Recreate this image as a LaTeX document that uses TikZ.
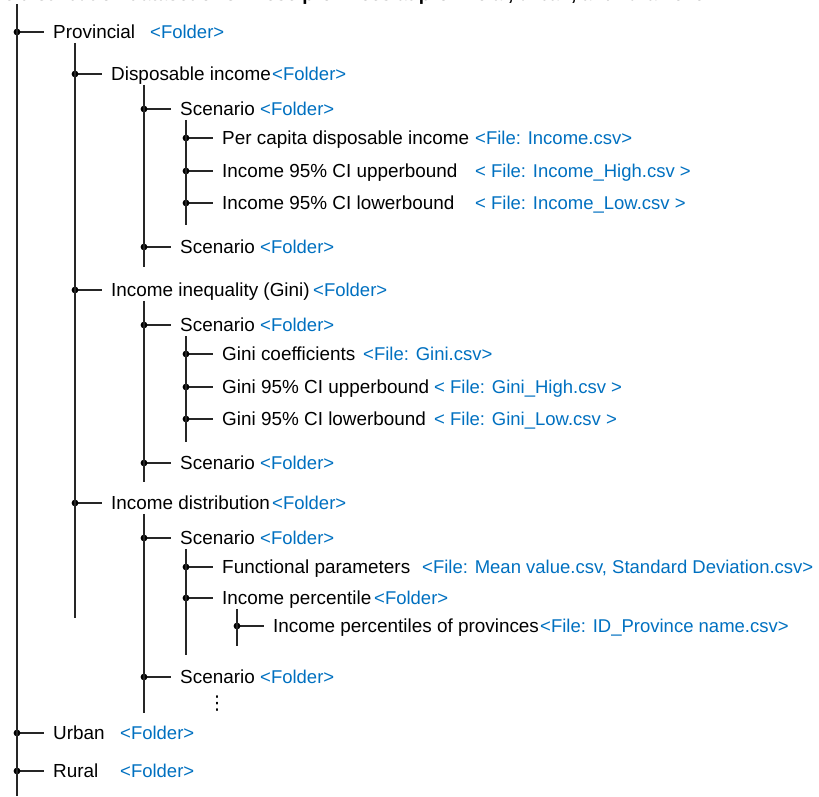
\documentclass[tikz,border=0pt]{standalone}
\usepackage{fontspec}
\setmainfont{Liberation Sans}
\newfontfamily\symfont{DejaVu Sans}
\usetikzlibrary{positioning}
\definecolor{folderblue}{RGB}{0,112,192}
\begin{document}
\begin{tikzpicture}[x=1pt, y=-1pt,
   every node/.style={font=\fontsize{18.9pt}{22pt}\selectfont},
   item/.style={anchor=west, inner xsep=9pt, inner ysep=0pt, text height=13.5pt, text depth=0pt},
   file/.style={anchor=west, inner sep=0pt, text height=13.5pt, text depth=0pt, text=folderblue,
      font=\fontsize{18.5pt}{22pt}\selectfont},
   trunk/.style={line width=1.7pt, black!85},
   twig/.style={line width=1.3pt, black!85},
   knot/.style={fill=black}]

\useasboundingbox (0,0) rectangle (819,796);

% cut-off caption line at the top
\node[anchor=base east, inner sep=0pt, font=\fontsize{18.9pt}{22pt}\selectfont\bfseries] (title)
   at (710,0.3) {Income distribution dataset of Chinese provinces at provincial, urban, and rural level};

% items of the tree
\foreach \n/\x/\y/\t in {prov/17/32/Provincial, urban/17/733/Urban, rural/17/771/Rural,
      disp/75/74/Disposable income, ineq/75/290/Income inequality (Gini), dist/75/503/Income distribution,
      sA1/144/109/Scenario, sA2/144/247/Scenario, sB1/144/325/Scenario,
      sB2/144/463/Scenario, sC1/144/538/Scenario, sC2/144/677/Scenario,
      pc/186/138/Per capita disposable income, iu/186/171/Income 95\% CI upperbound,
      il/186/203/Income 95\% CI lowerbound, gc/186/354/Gini coefficients,
      gu/186/387/Gini 95\% CI upperbound, gl/186/419/Gini 95\% CI lowerbound,
      fp/186/567/Functional parameters, ip/186/598/Income percentile,
      ipp/237/626/Income percentiles of provinces} {
   \coordinate (k-\n) at (\x,\y);
   \node[item, right=27pt of k-\n] (\n) {\t};
   \draw[twig] (k-\n) -- (\n);
   \fill[knot] (k-\n) circle[radius=3.4pt];
}

% folder and file tags
\foreach \n/\x/\t in {prov/150/{<Folder>}, urban/120/{<Folder>}, rural/120/{<Folder>},
      disp/272/{<Folder>}, ineq/313/{<Folder>}, dist/272/{<Folder>},
      sA1/260/{<Folder>}, sA2/260/{<Folder>}, sB1/260/{<Folder>},
      sB2/260/{<Folder>}, sC1/260/{<Folder>}, sC2/260/{<Folder>},
      pc/475/{<File: Income.csv>}, iu/475/{< File: Income\_High.csv >},
      il/475/{< File: Income\_Low.csv >}, gc/363/{<File: Gini.csv>},
      gu/434/{< File: Gini\_High.csv >}, gl/434/{< File: Gini\_Low.csv >},
      fp/422/{<File: Mean value.csv, Standard Deviation.csv>}, ip/374/{<Folder>},
      ipp/540/{<File: ID\_Province name.csv>}}
   \node[file] (\n-f) at (\n.west -| \x,0) {\t};

\node[inner sep=0pt, font=\fontsize{19pt}{22pt}\symfont] (more) at (217,704) {⋮};

% vertical lines
\coordinate (root-top) at (17,4);
\coordinate (root-end) at (17,796);
\draw[trunk] (root-top) -- (root-end);
\foreach \p/\c/\e in {prov/disp/618, disp/sA1/267, ineq/sB1/482, dist/sC1/713,
      sA1/pc/225, sB1/gc/442, sC1/fp/655, ip/ipp/646}
   \draw[trunk] ([yshift=-4pt]\p.south -| k-\c) -- (k-\c |- 0,\e);

\end{tikzpicture}
\end{document}
